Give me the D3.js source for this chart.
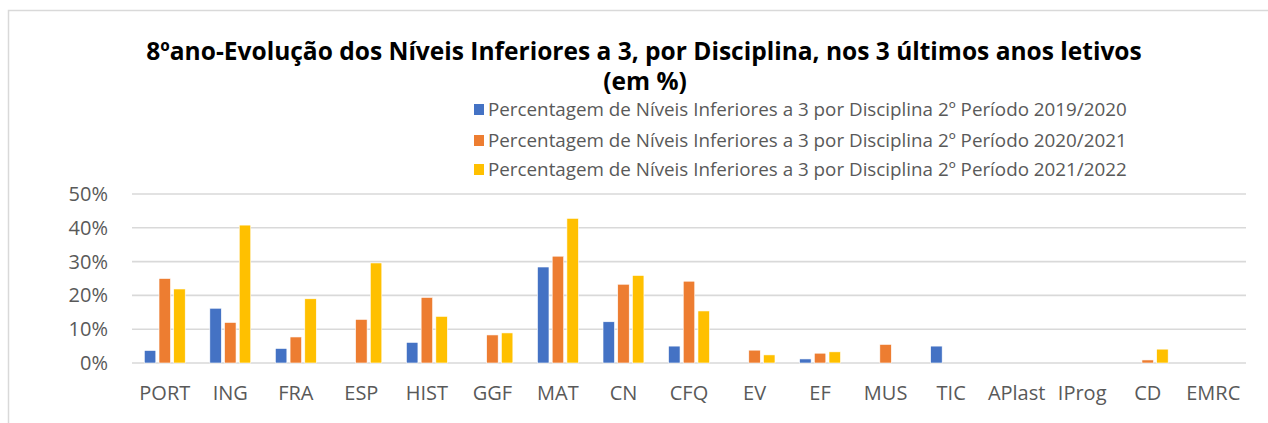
<!DOCTYPE html>
<html>
<head>
<meta charset="utf-8">
<script src="https://cdn.jsdelivr.net/npm/d3@7"></script>
<style>
  body { margin: 0; background: #fff; }
  text { font-family: "Open Sans", "Noto Sans", sans-serif; }
</style>
</head>
<body>
<svg id="chart"></svg>
<script>
var categories = ["PORT", "ING", "FRA", "ESP", "HIST", "GGF", "MAT", "CN", "CFQ", "EV", "EF", "MUS", "TIC", "APlast", "IProg", "CD", "EMRC"];
var seriesNames = [
  "Percentagem de Níveis Inferiores a 3 por Disciplina 2º Período 2019/2020",
  "Percentagem de Níveis Inferiores a 3 por Disciplina 2º Período 2020/2021",
  "Percentagem de Níveis Inferiores a 3 por Disciplina 2º Período 2021/2022"
];
var values2019 = [3.7, 16.2, 4.3, 0, 6.1, 0, 28.4, 12.2, 5.0, 0, 1.2, 0, 5.0, 0, 0, 0, 0];
var values2020 = [25.0, 12.0, 7.7, 12.9, 19.4, 8.3, 31.6, 23.3, 24.2, 3.8, 2.9, 5.5, 0, 0, 0, 0.9, 0];
var values2021 = [21.9, 40.8, 19.0, 29.6, 13.8, 8.9, 42.8, 25.9, 15.4, 2.4, 3.3, 0, 0, 0, 0, 4.1, 0];
var yTicks = [0, 10, 20, 30, 40, 50];
var colors = ["#4472C4", "#ED7D31", "#FFC000"];

var W = 1268, H = 423;
var svg = d3.select("#chart").attr("width", W).attr("height", H);

// chart area border (runs off the page right and bottom)
svg.append("rect")
    .attr("x", 8.5).attr("y", 10.5)
    .attr("width", W + 20).attr("height", H + 20)
    .attr("fill", "none").attr("stroke", "#d9d9d9").attr("stroke-width", 1.5);

var plotLeft = 132, plotRight = 1246, plotTop = 194, plotBottom = 363;

var x0 = d3.scaleBand().domain(categories).range([plotLeft, plotRight]).padding(0);
var x1 = d3.scaleBand().domain([0, 1, 2]).range([0, x0.bandwidth()])
    .paddingInner(0.218).paddingOuter(0.837);
var y = d3.scaleLinear().domain([0, 50]).range([plotBottom, plotTop]);

// fit text to a measured width
function fit(sel, width) {
  var len = sel.node().getComputedTextLength();
  var fs = parseFloat(sel.attr("font-size"));
  sel.attr("font-size", fs * width / len);
}

// title
var t1 = svg.append("text")
    .attr("x", 644).attr("y", 60)
    .attr("text-anchor", "middle").attr("font-weight", "bold")
    .attr("font-size", 22).attr("fill", "#000")
    .text("8ºano-Evolução dos Níveis Inferiores a 3, por Disciplina, nos 3 últimos anos letivos");
fit(t1, 996);
svg.append("text")
    .attr("x", 645).attr("y", 90)
    .attr("text-anchor", "middle").attr("font-weight", "bold")
    .attr("font-size", t1.attr("font-size")).attr("fill", "#000")
    .text("(em %)");

// gridlines
svg.append("g").selectAll("line")
  .data(yTicks)
  .enter().append("line")
    .attr("x1", plotLeft).attr("x2", plotRight)
    .attr("y1", function(d) { return y(d); })
    .attr("y2", function(d) { return y(d); })
    .attr("stroke", "#d9d9d9").attr("stroke-width", 1.6);

// y axis labels
var yAxis = svg.append("g")
    .attr("transform", "translate(" + (plotLeft - 10) + ",0)")
    .call(d3.axisLeft(y).tickValues(yTicks).tickSize(0).tickPadding(14)
      .tickFormat(function(d) { return d + "%"; }));
yAxis.select(".domain").remove();
yAxis.selectAll("text")
    .attr("font-size", 20).attr("fill", "#595959")
    .style("font-family", "'Open Sans', sans-serif");

// bars
var series = [values2019, values2020, values2021];
var groups = svg.append("g").selectAll("g")
  .data(categories)
  .enter().append("g")
    .attr("transform", function(d) { return "translate(" + x0(d) + ",0)"; });

groups.selectAll("rect")
  .data(function(d, i) { return series.map(function(s, k) { return {k: k, v: s[i]}; }); })
  .enter().append("rect")
    .filter(function(d) { return d.v > 0; })
    .attr("x", function(d) { return x1(d.k); })
    .attr("width", x1.bandwidth())
    .attr("y", function(d) { return y(d.v); })
    .attr("height", function(d) { return y(0) - y(d.v); })
    .attr("fill", function(d) { return colors[d.k]; })
    .attr("stroke", "#fff").attr("stroke-width", 0.6);

// x axis labels
var xAxis = svg.append("g")
    .attr("transform", "translate(0," + plotBottom + ")")
    .call(d3.axisBottom(x0).tickSize(0).tickPadding(23));
xAxis.select(".domain").remove();
xAxis.selectAll("text")
    .attr("font-size", 20).attr("fill", "#595959")
    .style("font-family", "'Open Sans', sans-serif");

// legend
var legend = svg.append("g").selectAll("g")
  .data(seriesNames)
  .enter().append("g")
    .attr("transform", function(d, i) { return "translate(474," + [110, 141, 170][i] + ")"; });
legend.append("rect")
    .attr("x", 0).attr("y", -6).attr("width", 10).attr("height", 11)
    .attr("fill", function(d, i) { return colors[i]; });
legend.append("text")
    .attr("x", 14).attr("y", 6)
    .attr("font-size", 16).attr("fill", "#595959")
    .text(function(d) { return d; })
    .each(function() { fit(d3.select(this), 639); });
</script>
</body>
</html>
